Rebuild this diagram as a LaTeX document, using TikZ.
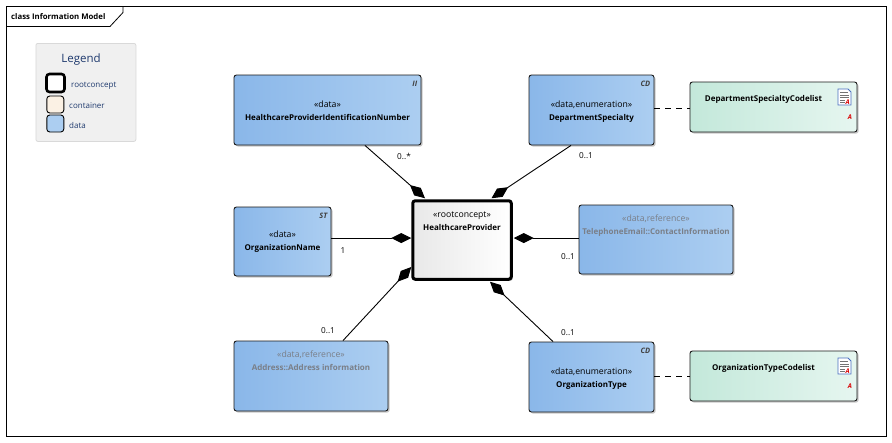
\documentclass[tikz,border=0pt]{standalone}
\usepackage{fontspec}
\setmainfont{Open Sans}
\usetikzlibrary{arrows.meta,shadows,calc}
\definecolor{navy}{HTML}{1F3A6E}
\definecolor{refgray}{HTML}{7A7F88}
\definecolor{docblue}{HTML}{4A6FC0}
\definecolor{blue1}{HTML}{8AB7E9}
\definecolor{blue2}{HTML}{ACCEF1}
\definecolor{green1}{HTML}{C3E8DA}
\definecolor{green2}{HTML}{E6F6F0}
\definecolor{beige}{HTML}{FBF1E4}
\newcommand{\stereo}[1]{{\fontsize{8.7pt}{13pt}\selectfont #1}}
\tikzset{
  x=1pt,y=-1pt,
  base/.style={draw=black!90,line width=0.9pt,rounded corners=2.5pt,inner sep=0pt,
    drop shadow={shadow xshift=1.6pt,shadow yshift=-1.6pt,fill=black,opacity=0.22}},
  databox/.style={base,left color=blue1,right color=blue2},
  codebox/.style={base,left color=green1,right color=green2},
  rootbox/.style={draw=black,line width=3pt,rounded corners=2.5pt,inner sep=0pt,left color=gray!18,right color=white,
    drop shadow={shadow xshift=1.6pt,shadow yshift=-1.6pt,fill=black,opacity=0.22}},
  boxtext/.style={font=\fontsize{8pt}{13pt}\selectfont,align=center,inner sep=0pt,text=black},
  reftext/.style={boxtext,text=refgray},
  typetag/.style={font=\fontsize{7.5pt}{9pt}\selectfont\itshape\bfseries,inner sep=0pt,text=black!75},
  comp/.style={draw=black,line width=0.9pt,{Diamond[length=20pt,width=10pt,fill=black]}-},
  dep/.style={draw=black,line width=0.9pt,dash pattern=on 6pt off 5pt},
  mult/.style={font=\fontsize{8.2pt}{9pt}\selectfont,inner sep=0pt,text=black},
  legendtext/.style={font=\fontsize{8pt}{9pt}\selectfont,inner sep=0pt,text=navy,anchor=west},
  swatch/.style={draw=black,line width=0.9pt,rounded corners=3pt,inner sep=0pt,minimum width=17pt,minimum height=17pt},
  redmark/.style={font=\fontsize{6.5pt}{7pt}\selectfont\bfseries\itshape,text=red!85!black,inner sep=0pt},
}
\newcommand{\docicon}[2]{%
  \draw[docblue,line width=0.9pt,fill=white] (#1-6.5,#2-8)--(#1+3.5,#2-8)--(#1+6.5,#2-5)--(#1+6.5,#2+8)--(#1-6.5,#2+8)--cycle;
  \draw[black!55,line width=0.7pt] (#1-4.5,#2-4.5)--(#1+3,#2-4.5) (#1-4.5,#2-2)--(#1+4.5,#2-2) (#1-4.5,#2+0.5)--(#1+4.5,#2+0.5) (#1-4.5,#2+3)--(#1+0,#2+3) (#1-4.5,#2+5.5)--(#1+0,#2+5.5);
  \node[redmark] at (#1+3.2,#2+5) {A};
}
\begin{document}
\begin{tikzpicture}
\useasboundingbox (0,0) rectangle (892,442);
\fill[white] (0,0) rectangle (892,442);
% frame
\node[draw=black,line width=0.8pt,minimum width=880pt,minimum height=430pt,inner sep=0pt,anchor=north west] (frame) at (6.3,6.3) {};
\draw[black,line width=0.8pt] (6.3,26.5)--(110,26.5)--(123,12.5)--(123,6.3);
\node[font=\fontsize{7.8pt}{9pt}\selectfont\bfseries,anchor=west,inner sep=0pt] (title) at (11,16.5) {class Information Model};
% legend
\node[draw=black!15,fill=black!6,rounded corners=2pt,line width=0.8pt,minimum width=100pt,minimum height=98pt,inner sep=0pt,anchor=north west] (legend) at (35.5,43) {};
\node[font=\fontsize{11.5pt}{12pt}\selectfont,text=navy,inner sep=0pt] (legendtitle) at (81,59.5) {Legend};
\node[swatch,line width=2.6pt,fill=white,minimum width=18pt,minimum height=18pt] (s1) at (55.5,83) {};
\node[swatch,fill=beige] (s2) at (55.3,104.5) {};
\node[swatch,fill=blue2] (s3) at (55.3,123.5) {};
\node[legendtext] (l1) at (71,85.5) {rootconcept};
\node[legendtext] (l2) at (69,106) {container};
\node[legendtext] (l3) at (69,125) {data};
% boxes
\node[rootbox,minimum width=98.5pt,minimum height=78.5pt,label={[boxtext,anchor=north,yshift=-12pt]north:{\stereo{«rootconcept»}\\\textbf{HealthcareProvider}}}] (root) at (462,240) {};
\node[databox,minimum width=187pt,minimum height=70pt,label={[boxtext,anchor=north,yshift=-26pt]north:{\stereo{«data»}\\\textbf{HealthcareProviderIdentificationNumber}}},label={[typetag,anchor=north east,xshift=-4pt,yshift=-6pt]north east:II}] (hpin) at (327.5,110) {};
\node[databox,minimum width=125pt,minimum height=70pt,label={[boxtext,anchor=north,yshift=-26pt]north:{\stereo{«data,enumeration»}\\\textbf{DepartmentSpecialty}}},label={[typetag,anchor=north east,xshift=-4pt,yshift=-6pt]north east:CD}] (dept) at (591.5,110) {};
\node[databox,minimum width=97pt,minimum height=69pt,label={[boxtext,anchor=north,yshift=-24.5pt]north:{\stereo{«data»}\\\textbf{OrganizationName}}},label={[typetag,anchor=north east,xshift=-4pt,yshift=-6pt]north east:ST}] (orgname) at (282.5,241.5) {};
\node[databox,minimum width=154pt,minimum height=69pt,label={[reftext,anchor=north,yshift=-10.5pt]north:{\stereo{«data,reference»}\\\textbf{TelephoneEmail::ContactInformation}}}] (tel) at (656,239.5) {};
\node[databox,minimum width=154pt,minimum height=70pt,label={[reftext,anchor=north,yshift=-10.5pt]north:{\stereo{«data,reference»}\\\textbf{Address::Address information}}}] (addr) at (311,376) {};
\node[databox,minimum width=125pt,minimum height=70pt,label={[boxtext,anchor=north,yshift=-26pt]north:{\stereo{«data,enumeration»}\\\textbf{OrganizationType}}},label={[typetag,anchor=north east,xshift=-4pt,yshift=-6pt]north east:CD}] (orgtype) at (591.5,377) {};
\node[codebox,minimum width=167pt,minimum height=50pt,label={[boxtext,anchor=center,yshift=-17.5pt,xshift=-10pt]north:{\textbf{DepartmentSpecialtyCodelist}}}] (deptcode) at (773.5,107) {};
\node[codebox,minimum width=167pt,minimum height=50pt,label={[boxtext,anchor=center,yshift=-17.5pt,xshift=-10pt]north:{\textbf{OrganizationTypeCodelist}}}] (orgcode) at (773.5,376) {};
\docicon{844.5}{97}
\node[redmark] (ra1) at (850,117) {A};
\docicon{844.5}{366}
\node[redmark] (ra2) at (850,386) {A};
% connectors
\draw[comp] ([xshift=-37pt,yshift=1pt]root.north) -- ([xshift=37.5pt]hpin.south);
\draw[comp] ([xshift=29.5pt,yshift=1pt]root.north) -- ([xshift=-20.5pt]dept.south);
\draw[comp] ([yshift=2pt]root.west) -- ([yshift=3.5pt]orgname.east);
\draw[comp] ([xshift=1pt,yshift=2pt]root.east) -- ([yshift=1.5pt]tel.west);
\draw[comp] ([yshift=-27pt]root.west) -- ([xshift=32pt]addr.north);
\draw[comp] ([xshift=28pt,yshift=-1pt]root.south) -- ([xshift=-38.5pt]orgtype.north);
\draw[dep] ([yshift=2pt]dept.east) -- ([yshift=-1pt]deptcode.west);
\draw[dep] ([yshift=1pt]orgtype.east) -- (orgcode.west);
% multiplicities
\node[mult] (m1) at (404,156) {0..*};
\node[mult] (m2) at (586,156) {0..1};
\node[mult] (m3) at (343,251) {1};
\node[mult] (m4) at (568,257) {0..1};
\node[mult] (m5) at (328,331) {0..1};
\node[mult] (m6) at (568,333) {0..1};
\end{tikzpicture}
\end{document}
